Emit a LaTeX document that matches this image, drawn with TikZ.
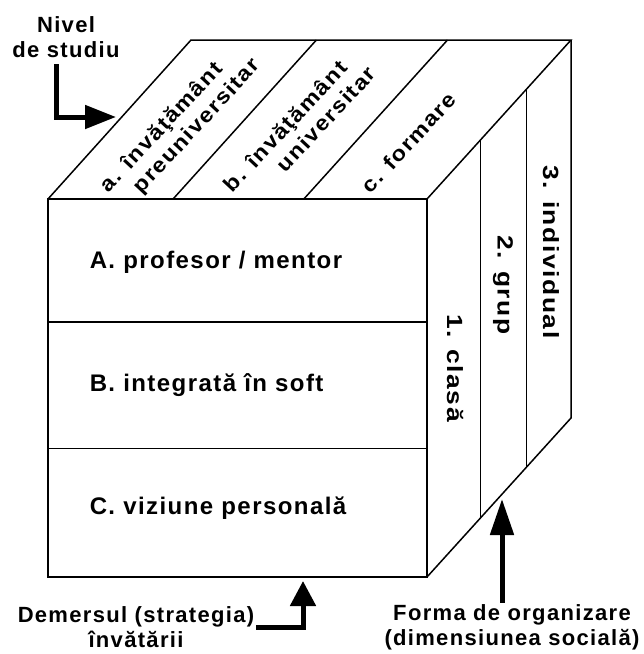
\documentclass[tikz,border=0pt]{standalone}
\usepackage{fontspec}
\setmainfont{Liberation Sans}[LetterSpace=6]
\usetikzlibrary{positioning}
\usetikzlibrary{arrows.meta}
\usetikzlibrary{calc}

\begin{document}
\begin{tikzpicture}[
            x = 1pt, y = -1pt, % pixel grid, y runs downwards
            line width = 1.5pt, % cube edges
            node distance = 123pt % distance between front rows
            ]

        \tikzstyle{face text}=[
            font = \bfseries\fontsize{24}{28}\selectfont,
            inner sep = 0pt
        ]
        \tikzstyle{top text}=[
            font = \bfseries\fontsize{21}{25}\selectfont,
            rotate = 47, xscale = 1.12, anchor = base west, inner sep = 0pt
        ]
        \tikzstyle{side text}=[
            font = \bfseries\fontsize{22}{26}\selectfont,
            rotate = -90, xscale = 1.2, inner sep = 0pt
        ]
        \tikzstyle{axis label}=[
            font = \bfseries\fontsize{22}{25}\selectfont,
            align = center, inner sep = 1pt
        ]
        \tikzstyle{fat arrow}=[line width = 5pt]

        \useasboundingbox (0,0) rectangle (644,654);

	% cube corners
	\coordinate (ftl) at (48,199);
	\coordinate (ftr) at (427,199);
	\coordinate (fbr) at (427,577);
	\coordinate (fbl) at (48,577);
	\coordinate (btl) at (191,40);
	\coordinate (btr) at (571,40);
	\coordinate (bbr) at (571,418);

	\draw (ftl) rectangle (fbr);
	\draw (ftl) -- (btl) -- (btr) -- (ftr);
	\draw (btr) -- (bbr) -- (fbr);

        % front face: strategy
        \draw ($(ftl)!0.325!(fbl)$) -- ($(ftr)!0.325!(fbr)$);
        \draw ($(ftl)!0.66!(fbl)$) -- ($(ftr)!0.66!(fbr)$);

         \node[face text, anchor=west] (A) at (89,262) {A. profesor / mentor};
         \node[face text, anchor=west] (B) [below=of A.west, anchor=west] {B. integrată în soft};
         \node[face text, anchor=west] (C) [below=of B.west, anchor=west] {C. viziune personală};

        % top face: study level
        \draw ($(ftl)!0.33!(ftr)$) -- ($(btl)!0.33!(btr)$);
        \draw ($(ftl)!0.675!(ftr)$) -- ($(btl)!0.675!(btr)$);

         \node[top text] (a1) at (108,194) {a. învăţământ};
         \node[top text] (a2) at (141,195) {preuniversitar};
         \node[top text] (b1) at (232,194) {b. învăţământ};
         \node[top text] (b2) at (285,174) {universitar};
         \node[top text] (c1) at (370,195) {c. formare};

        % right face: social form
        \draw ($(ftr)!0.37!(btr)$) -- ($(fbr)!0.37!(bbr)$);
        \draw ($(ftr)!0.69!(btr)$) -- ($(fbr)!0.69!(bbr)$);

         \node[side text] (s1) at (455,368) {1. clasă};
         \node[side text] (s2) at (503,285) {2. grup};
         \node[side text] (s3) at (551,252) {3. individual};

        % axis labels
         \node[axis label] (nivel) at (66,37) {Nivel\\de studiu};
         \coordinate (nivtip) at (116,117);
         \draw[fat arrow, shorten <= 5pt, -{Triangle[length=31pt,width=23pt]}] ([xshift=-10pt]nivel.south) |- (nivtip);

         \node[axis label] (dem) at (136,627) {Demersul (strategia)\\învătării};
         \coordinate (demtip) at (303,581);
         \draw[fat arrow, -{Triangle[length=25pt,width=25pt]}] (dem.east) -| (demtip);

         \node[axis label] (forma) at (512,627) {Forma de organizare\\(dimensiunea socială)};
         \coordinate (formtip) at (502,499);
         \draw[fat arrow, -{Triangle[length=36pt,width=23pt]}] (forma.north -| formtip) -- (formtip);

  \end{tikzpicture}
\end{document}
